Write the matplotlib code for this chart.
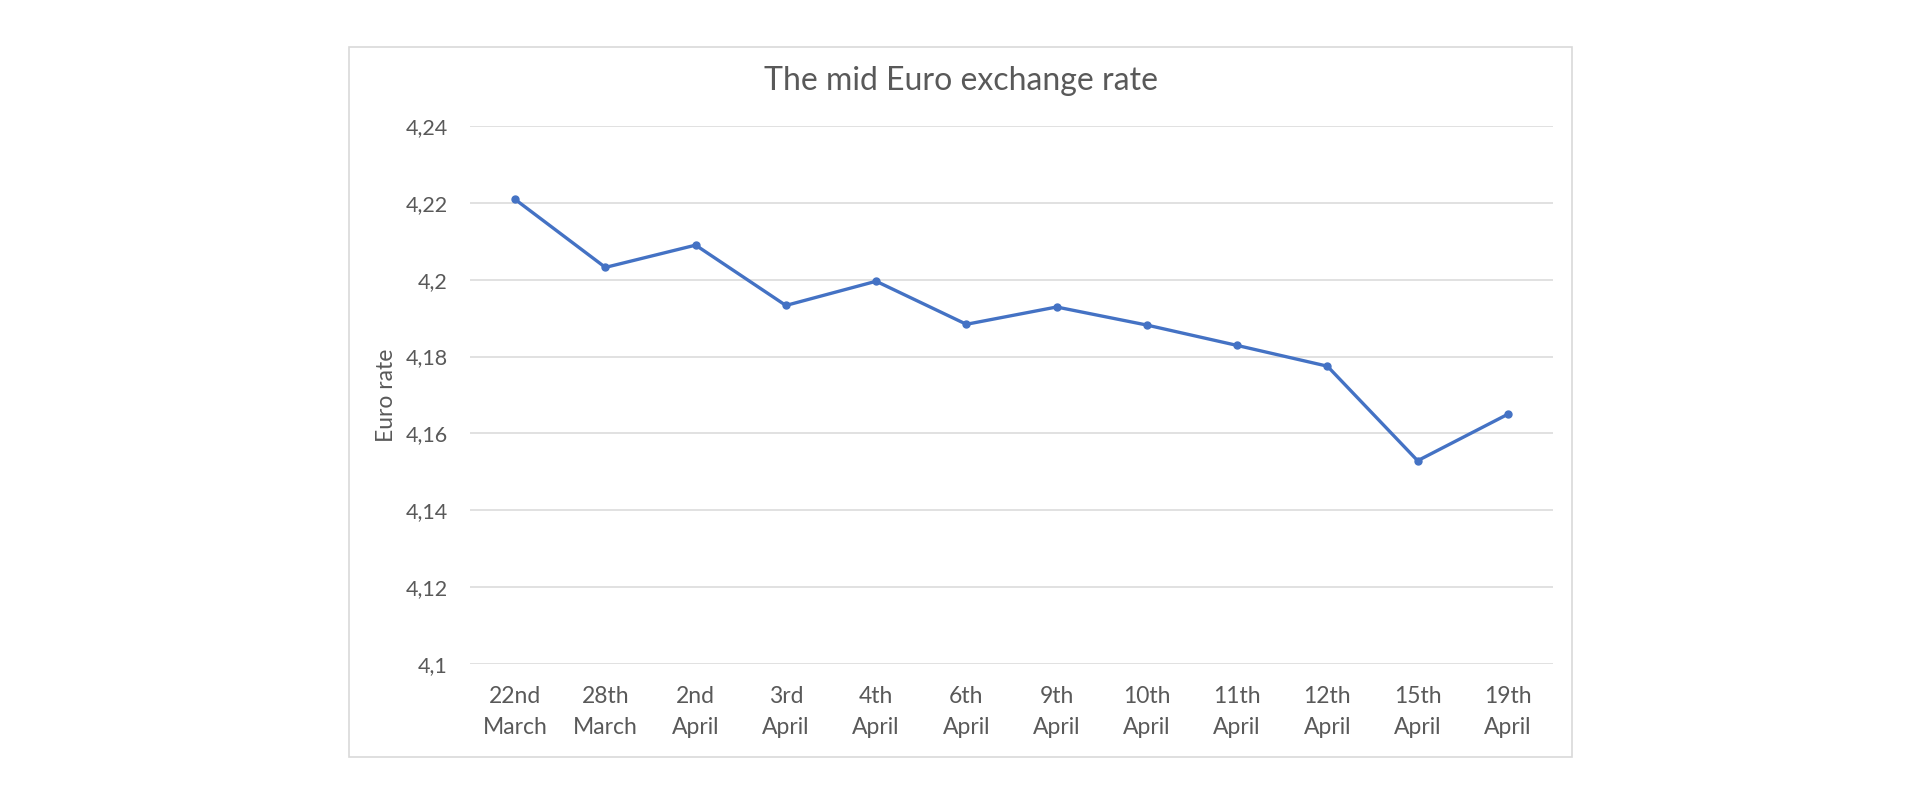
import matplotlib
matplotlib.use("Agg")
import matplotlib.pyplot as plt
from matplotlib.patches import Rectangle
from matplotlib.ticker import FuncFormatter

plt.rcParams["font.family"] = ["Lato", "DejaVu Sans"]

# data
dates = ["22nd\nMarch", "28th\nMarch", "2nd\nApril", "3rd\nApril", "4th\nApril",
         "6th\nApril", "9th\nApril", "10th\nApril", "11th\nApril", "12th\nApril",
         "15th\nApril", "19th\nApril"]
rates = [4.2209, 4.2032, 4.2090, 4.1933, 4.1996, 4.1884, 4.1929, 4.1882,
         4.1829, 4.1775, 4.1529, 4.1650]
y_ticks = [4.10, 4.12, 4.14, 4.16, 4.18, 4.20, 4.22, 4.24]

TEXT = "#595959"
GRID = "#d9d9d9"
LINE = "#4472C4"

fig = plt.figure(figsize=(19.2, 8), dpi=100)
fig.patch.set_facecolor("white")

# chart area border
fig.patches.append(Rectangle((349 / 1920, 1 - 757 / 800), (1572 - 349) / 1920,
                             (757 - 46.5) / 800, transform=fig.transFigure,
                             fill=False, edgecolor=GRID, linewidth=1.2))

ax = fig.add_axes([470 / 1920, 1 - 664 / 800, (1553 - 470) / 1920, (664 - 126) / 800])
x = list(range(len(dates)))
ax.plot(x, rates, color=LINE, linewidth=2.4, marker="o", markersize=5, zorder=3)

ax.set_xlim(-0.5, len(dates) - 0.5)
ax.set_ylim(4.10, 4.24)
ax.set_yticks(y_ticks)
ax.yaxis.set_major_formatter(FuncFormatter(lambda v, p: f"{v:g}".replace(".", ",")))
ax.set_xticks(x)
ax.set_xticklabels(dates, linespacing=1.55)

ax.grid(axis="y", color=GRID, linewidth=1.1)
ax.set_axisbelow(True)
for s in ax.spines.values():
    s.set_visible(False)
ax.tick_params(axis="both", length=0, labelcolor=TEXT)
ax.tick_params(axis="x", pad=16, labelsize=16.5)
ax.tick_params(axis="y", pad=16, labelsize=15.5)

ax.set_ylabel("Euro rate", fontsize=16.5, color=TEXT)
ax.yaxis.set_label_coords((397 - 470) / 1083, 0.5)

fig.text(960.5 / 1920, 1 - 81 / 800, "The mid Euro exchange rate",
         ha="center", va="center", fontsize=23, color=TEXT)

fig.savefig("out.png", dpi=100)
